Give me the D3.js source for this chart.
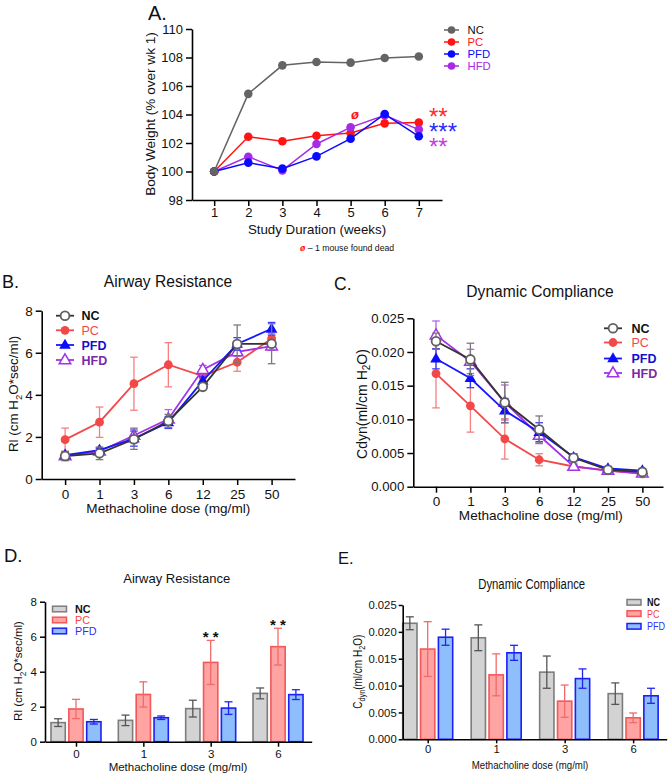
<!DOCTYPE html>
<html><head><meta charset="utf-8">
<script src="https://cdn.jsdelivr.net/npm/d3@7"></script>
<style>body{margin:0;background:#fff}svg{display:block}</style>
</head><body><svg id="c" width="669" height="774"></svg>
<script>
// ---------- DATA ----------
const weeks = [1, 2, 3, 4, 5, 6, 7];
const bwTicks = [98, 100, 102, 104, 106, 108, 110];
const bwNC  = [100, 105.45, 107.45, 107.68, 107.64, 107.96, 108.07];
const bwPC  = [100, 102.44, 102.12, 102.51, 102.70, 103.38, 103.43];
const bwPFD = [100, 100.62, 100.20, 101.06, 102.30, 104.03, 102.47];
const bwHFD = [100, 101.04, 100.08, 101.93, 103.10, 103.94, 102.94];

const groups = ["NC", "PC", "PFD", "HFD"];
const doses = ["0", "1", "3", "6", "12", "25", "50"];
const barDoses = ["0", "1", "3", "6"];
const barGroups = ["NC", "PC", "PFD"];

const rlNC  = [1.09, 1.22, 1.89, 2.76, 4.38, 6.42, 6.43];
const rlPC  = [1.87, 2.70, 4.53, 5.43, 4.89, 5.55, 6.67];
const rlPFD = [1.14, 1.37, 1.92, 2.69, 4.66, 6.42, 7.14];
const rlHFD = [1.10, 1.32, 2.07, 2.85, 5.20, 6.04, 6.32];
const rlNCerr  = [0.22, 0.30, 0.48, 0.31, 0.15, 0.90, 0.95];
const rlPCerr  = [0.55, 0.72, 1.26, 1.05, 0.20, 0.43, 0.25];
const rlPFDerr = [0.13, 0.10, 0.36, 0.28, 0.20, 0.30, 0.30];
const rlHFDerr = [0.12, 0.15, 0.35, 0.45, 0.20, 0.20, 0.20];

const cdNC  = [0.0216, 0.0189, 0.0125, 0.0085, 0.0043, 0.0025, 0.0022];
const cdPC  = [0.0168, 0.0120, 0.0071, 0.0040, 0.0030, 0.0024, 0.0019];
const cdPFD = [0.0190, 0.0161, 0.0113, 0.0081, 0.0044, 0.0027, 0.0024];
const cdHFD = [0.0225, 0.0186, 0.0125, 0.0076, 0.0030, 0.0024, 0.0020];
const cdNCerr  = [0.0012, 0.0024, 0.0030, 0.0020, 0.0006, 0.0002, 0.0002];
const cdPCerr  = [0.0051, 0.0039, 0.0030, 0.0009, 0.0003, 0.0002, 0.0002];
const cdPFDerr = [0.0015, 0.0014, 0.0018, 0.0014, 0.0005, 0.0003, 0.0003];
const cdHFDerr = [0.0021, 0.0018, 0.0026, 0.0012, 0.0004, 0.0002, 0.0002];

const rlTicks = [0, 2, 4, 6, 8];
const cdTicks = [0, 0.005, 0.010, 0.015, 0.020, 0.025];

// ---------- SETUP ----------
const F = '"Liberation Sans", Arial, sans-serif';
const svg = d3.select("#c");
svg.append("rect").attr("width", 669).attr("height", 774).attr("fill", "#fff");

function narrow(sel, f = 0.82) {
  sel.each(function () {
    const w = this.getComputedTextLength();
    this.setAttribute("textLength", (w * f).toFixed(2));
    this.setAttribute("lengthAdjust", "spacingAndGlyphs");
  });
  return sel;
}
function styleAxis(g, fs) {
  g.attr("font-size", fs).attr("font-family", F);
  g.select(".domain").attr("stroke", "#000").attr("stroke-width", 1.6);
  g.selectAll(".tick line").attr("stroke", "#000").attr("stroke-width", 1.5);
  g.selectAll(".tick text").attr("fill", "#111");
  return g;
}
function txt(x, y, s, fs, opts = {}) {
  const t = svg.append("text").attr("x", x).attr("y", y).attr("font-size", fs)
    .attr("font-family", F).attr("fill", opts.fill || "#111")
    .attr("text-anchor", opts.anchor || "start");
  if (opts.weight) t.attr("font-weight", opts.weight);
  if (opts.style) t.attr("font-style", opts.style);
  if (opts.rotate) t.attr("transform", `rotate(-90,${x},${y})`);
  if (opts.dy) t.attr("dy", opts.dy);
  t.text(s);
  return t;
}
function subLabel(x, y, parts, fs, opts = {}) {
  const t = svg.append("text").attr("x", x).attr("y", y).attr("font-size", fs)
    .attr("font-family", F).attr("fill", "#111").attr("text-anchor", "middle");
  if (opts.rotate) t.attr("transform", `rotate(-90,${x},${y})`);
  parts.forEach(p => {
    const sp = t.append("tspan").text(p[0]);
    if (p[1]) sp.attr("font-size", fs * 0.72).attr("dy", fs * 0.28);
    else if (p[2]) sp.attr("dy", -fs * 0.28);
  });
  return t;
}

// ---------- PANEL A ----------
const xA = d3.scaleLinear().domain([0.35, 7.68]).range([192, 442]);
const yA = d3.scaleLinear().domain([98, 110]).range([200, 29]);
styleAxis(svg.append("g").attr("transform", "translate(0,200)")
  .call(d3.axisBottom(xA).tickValues(weeks).tickSize(6).tickSizeOuter(0).tickPadding(2)), 13);
styleAxis(svg.append("g").attr("transform", "translate(192,0)")
  .call(d3.axisLeft(yA).tickValues(bwTicks).tickSize(6).tickSizeOuter(0).tickPadding(3)), 13);

const colA = { NC: "#646464", PC: "#ff1414", PFD: "#0a0aff", HFD: "#a92ae6" };
const bwData = { NC: bwNC, PC: bwPC, PFD: bwPFD, HFD: bwHFD };
["PC", "HFD", "PFD", "NC"].forEach(k => {
  const line = d3.line().x((d, i) => xA(weeks[i])).y(d => yA(d));
  svg.append("path").datum(bwData[k]).attr("d", line).attr("fill", "none")
    .attr("stroke", colA[k]).attr("stroke-width", 1.5);
  svg.append("g").selectAll("circle").data(bwData[k]).join("circle")
    .attr("cx", (d, i) => xA(weeks[i])).attr("cy", d => yA(d)).attr("r", 4.3)
    .attr("fill", colA[k]);
});
txt(148, 20, "A.", 20);
txt(154.5, 114, "Body Weight (% over wk 1)", 13.6, { anchor: "middle", rotate: true });
txt(317, 234, "Study Duration (weeks)", 13.3, { anchor: "middle" });
// legend A
const legA = [["NC", 30], ["PC", 42], ["PFD", 54], ["HFD", 66]];
legA.forEach(([k, y]) => {
  svg.append("line").attr("x1", 444).attr("x2", 459).attr("y1", y).attr("y2", y)
    .attr("stroke", colA[k]).attr("stroke-width", 1.5);
  svg.append("circle").attr("cx", 451.5).attr("cy", y).attr("r", 3.8).attr("fill", colA[k]);
  txt(467.5, y, k, 11.3, { fill: k === "NC" ? "#111" : colA[k], dy: "0.36em" });
});
// significance stars A (one text block, three lines)
const stars = svg.append("text").attr("font-size", 24).attr("font-family", F);
[["**", "#ff2a2a", 125], ["***", "#2a2aff", 140], ["**", "#c43ce0", 155]].forEach(([s, c, y]) =>
  stars.append("tspan").attr("x", 429).attr("y", y).attr("fill", c).text(s));
// death marker
txt(xA(5) + 0.5, yA(bwPC[4]) - 14, "ø", 13, { fill: "#ff1414", weight: "bold", style: "italic" });
const fn = svg.append("text").attr("x", 300).attr("y", 251).attr("font-size", 8.7).attr("font-family", F);
fn.append("tspan").attr("fill", "#ff1414").attr("font-weight", "bold").attr("font-style", "italic").text("ø");
fn.append("tspan").attr("fill", "#111").text(" – 1 mouse found dead");

// ---------- LINE PANELS B & C ----------
const stl = {
  NC:  { line: "#333333", err: "#7a7a7a", mk: "open", mkStroke: "#606060", sym: "circle" },
  PC:  { line: "#f34848", err: "#f58080", mk: "fill", mkFill: "#f34848", sym: "circle" },
  PFD: { line: "#1616ff", err: "#3d3dff", mk: "fill", mkFill: "#0c0cff", sym: "tri" },
  HFD: { line: "#a333e6", err: "#b462ea", mk: "open", mkStroke: "#a333e6", sym: "tri" }
};
const legText = { NC: "#111", PC: "#f34848", PFD: "#1111cc", HFD: "#7a2aa8" };
function drawMarker(g, x, y, k) {
  const s = stl[k];
  if (s.sym === "circle") {
    g.append("circle").attr("cx", x).attr("cy", y).attr("r", 4.4)
      .attr("fill", s.mk === "fill" ? s.mkFill : "#fff")
      .attr("stroke", s.mk === "fill" ? "none" : s.mkStroke).attr("stroke-width", 1.8);
  } else {
    g.append("path").attr("d", d3.symbol(d3.symbolTriangle, 58)())
      .attr("transform", `translate(${x},${y + 0.5})`)
      .attr("fill", s.mk === "fill" ? s.mkFill : "#fff")
      .attr("stroke", s.mk === "fill" ? "none" : s.mkStroke).attr("stroke-width", 1.5);
  }
}
function linePanel(x, y, vals, errs) {
  ["PC", "HFD", "PFD", "NC"].forEach(k => {
    const g = svg.append("g"), s = stl[k];
    vals[k].forEach((v, i) => {
      const cx = x(i), lo = y(v - errs[k][i]), hi = y(v + errs[k][i]);
      g.append("line").attr("x1", cx).attr("x2", cx).attr("y1", lo).attr("y2", hi)
        .attr("stroke", s.err).attr("stroke-width", 1.3);
      [lo, hi].forEach(yy => g.append("line").attr("x1", cx - 3.8).attr("x2", cx + 3.8)
        .attr("y1", yy).attr("y2", yy).attr("stroke", s.err).attr("stroke-width", 1.3));
    });
    const line = d3.line().x((d, i) => x(i)).y(d => y(d));
    g.append("path").datum(vals[k]).attr("d", line).attr("fill", "none")
      .attr("stroke", s.line).attr("stroke-width", 1.8);
    vals[k].forEach((v, i) => drawMarker(g, x(i), y(v), k));
  });
}
function lineLegend(x0, mx, tx, ys) {
  groups.forEach((k, i) => {
    svg.append("line").attr("x1", x0).attr("x2", x0 + 18).attr("y1", ys[i]).attr("y2", ys[i])
      .attr("stroke", stl[k].line).attr("stroke-width", 1.8);
    drawMarker(svg, mx, ys[i], k);
    txt(tx, ys[i], k, 12.5, { fill: legText[k], weight: k === "PC" ? "normal" : "bold", dy: "0.36em" });
  });
}

// Panel B
const xB = d3.scaleLinear().domain([-0.68, 6.68]).range([41.7, 295]);
const yB = d3.scaleLinear().domain([0, 8]).range([479, 310.7]);
styleAxis(svg.append("g").attr("transform", "translate(0,479)")
  .call(d3.axisBottom(xB).tickValues(d3.range(doses.length)).tickFormat(i => doses[i])
    .tickSize(6).tickSizeOuter(0).tickPadding(4)), 13.5);
styleAxis(svg.append("g").attr("transform", "translate(41.7,0)")
  .call(d3.axisLeft(yB).tickValues(rlTicks).tickSize(6).tickSizeOuter(0).tickPadding(3)), 13.5);
linePanel(xB, yB, { NC: rlNC, PC: rlPC, PFD: rlPFD, HFD: rlHFD },
  { NC: rlNCerr, PC: rlPCerr, PFD: rlPFDerr, HFD: rlHFDerr });
lineLegend(56, 65, 81.5, [315.7, 330.3, 345, 360]);
txt(2, 288, "B.", 18);
txt(168, 286.5, "Airway Resistance", 15.6, { anchor: "middle" });
txt(168.3, 513, "Methacholine dose (mg/ml)", 13.6, { anchor: "middle" });
subLabel(18, 394, [["Rl (cm H"], ["2", true], ["O*sec/ml)", false, true]], 13.4, { rotate: true });

// Panel C
const xC = d3.scaleLinear().domain([-0.66, 6.6]).range([413.3, 663]);
const yC = d3.scaleLinear().domain([0, 0.025]).range([486.7, 318.3]);
styleAxis(svg.append("g").attr("transform", "translate(0,486.7)")
  .call(d3.axisBottom(xC).tickValues(d3.range(doses.length)).tickFormat(i => doses[i])
    .tickSize(6).tickSizeOuter(0).tickPadding(4)), 13.5);
styleAxis(svg.append("g").attr("transform", "translate(413.3,0)")
  .call(d3.axisLeft(yC).tickValues(cdTicks).tickFormat(d3.format(".3f")).tickSize(6).tickSizeOuter(0).tickPadding(3)), 13.2);
linePanel(xC, yC, { NC: cdNC, PC: cdPC, PFD: cdPFD, HFD: cdHFD },
  { NC: cdNCerr, PC: cdPCerr, PFD: cdPFDerr, HFD: cdHFDerr });
lineLegend(604, 613, 631.5, [328.3, 342.5, 358.5, 373]);
txt(334, 290, "C.", 17.5);
txt(540, 297, "Dynamic Compliance", 15.6, { anchor: "middle" });
txt(540.8, 520, "Methacholine dose (mg/ml)", 13.6, { anchor: "middle" });
subLabel(366.5, 404, [["Cdyn(ml/cm H"], ["2", true], ["O)", false, true]], 14, { rotate: true });

// ---------- BAR PANELS D & E ----------
const bst = {
  NC:  { fill: "#d3d3d3", stroke: "#7d7d7d", err: "#555555", leg: "#111" },
  PC:  { fill: "#ffa3a3", stroke: "#f25858", err: "#f26a6a", leg: "#f34848" },
  PFD: { fill: "#8ebefc", stroke: "#1e1ef5", err: "#2323f0", leg: "#2f2ff2" }
};
const sub = d3.scaleBand().domain(barGroups).range([-25, 25]).paddingInner(0.2);
function barPanel(x, y, vals, errs) {
  barGroups.forEach(k => {
    const g = svg.append("g"), s = bst[k];
    barDoses.forEach((dz, i) => {
      const v = vals[k][i], bx = x(i) + sub(k);
      g.append("rect").attr("x", bx).attr("y", y(v)).attr("width", sub.bandwidth())
        .attr("height", y(0) - y(v)).attr("fill", s.fill).attr("stroke", s.stroke).attr("stroke-width", 1.6);
      const cx = bx + sub.bandwidth() / 2, lo = y(v - errs[k][i]), hi = y(v + errs[k][i]);
      g.append("line").attr("x1", cx).attr("x2", cx).attr("y1", lo).attr("y2", hi)
        .attr("stroke", s.err).attr("stroke-width", 1.3);
      [lo, hi].forEach(yy => g.append("line").attr("x1", cx - 4).attr("x2", cx + 4)
        .attr("y1", yy).attr("y2", yy).attr("stroke", s.err).attr("stroke-width", 1.3));
    });
  });
}
function barLegend(sx, tx, ys, fs, nar) {
  barGroups.forEach((k, i) => {
    svg.append("rect").attr("x", sx).attr("y", ys[i] - 2.8).attr("width", 14).attr("height", 5.6)
      .attr("fill", bst[k].fill).attr("stroke", bst[k].stroke).attr("stroke-width", 1.5);
    const t = txt(tx, ys[i], k, fs, { fill: bst[k].leg, weight: k === "NC" ? "bold" : "normal", dy: "0.36em" });
    if (nar) narrow(t);
  });
}

// Panel D
const xD = d3.scaleLinear().domain([-0.46, 3.5]).range([45, 311.7]);
const yD = d3.scaleLinear().domain([0, 8]).range([741.7, 601.7]);
barPanel(xD, yD, { NC: rlNC, PC: rlPC, PFD: rlPFD }, { NC: rlNCerr, PC: rlPCerr, PFD: rlPFDerr });
styleAxis(svg.append("g").attr("transform", "translate(0,741.7)")
  .call(d3.axisBottom(xD).tickValues(d3.range(barDoses.length)).tickFormat(i => barDoses[i])
    .tickSize(5).tickSizeOuter(0).tickPadding(3)), 11.5);
styleAxis(svg.append("g").attr("transform", "translate(45,0)")
  .call(d3.axisLeft(yD).tickValues(rlTicks).tickSize(5).tickSizeOuter(0).tickPadding(3)), 11.5);
barLegend(52.5, 75, [609, 620, 631], 10.8, false);
[2, 3].forEach(i => txt(xD(i), yD(rlPC[i] + rlPCerr[i]) + 2, "* *", 15, { anchor: "middle", weight: "bold" }));
txt(4, 562, "D.", 18.5);
txt(176.7, 583.3, "Airway Resistance", 13, { anchor: "middle" });
txt(178, 770.5, "Methacholine dose (mg/ml)", 11.5, { anchor: "middle" });
subLabel(22.3, 671, [["Rl (cm H"], ["2", true], ["O*sec/ml)", false, true]], 11.5, { rotate: true });

// Panel E (condensed lettering)
const xE = d3.scaleLinear().domain([-0.365, 3.49]).range([402.7, 666.7]);
const yE = d3.scaleLinear().domain([0, 0.025]).range([739.3, 605]);
barPanel(xE, yE, { NC: cdNC, PC: cdPC, PFD: cdPFD }, { NC: cdNCerr, PC: cdPCerr, PFD: cdPFDerr });
styleAxis(svg.append("g").attr("transform", "translate(0,739.3)")
  .call(d3.axisBottom(xE).tickValues(d3.range(barDoses.length)).tickFormat(i => barDoses[i])
    .tickSize(4).tickSizeOuter(0).tickPadding(2)), 11.3);
styleAxis(svg.append("g").attr("transform", "translate(402.7,0)")
  .call(d3.axisLeft(yE).tickValues(cdTicks).tickFormat(d3.format(".3f")).tickSize(4).tickSizeOuter(0).tickPadding(2)), 11.3);
barLegend(627, 647, [602.3, 613.6, 626.3], 11, true);
txt(338, 563.5, "E.", 16.5);
narrow(txt(531.7, 589.3, "Dynamic Compliance", 13.8, { anchor: "middle" }));
narrow(txt(530, 768.5, "Methacholine dose (mg/ml)", 11.5, { anchor: "middle" }), 0.84);
const ey = svg.append("text").attr("x", 362).attr("y", 671.7).attr("font-size", 12.2)
  .attr("font-family", F).attr("fill", "#111").attr("text-anchor", "middle")
  .attr("transform", "rotate(-90,362,671.7)");
ey.append("tspan").text("C");
ey.append("tspan").text("dyn").attr("font-size", 8.8).attr("dy", 3.4);
ey.append("tspan").text("(ml/cm H").attr("dy", -3.4);
ey.append("tspan").text("2").attr("font-size", 8.8).attr("dy", 3.4);
ey.append("tspan").text("O)").attr("dy", -3.4);
narrow(ey);
</script></body></html>
